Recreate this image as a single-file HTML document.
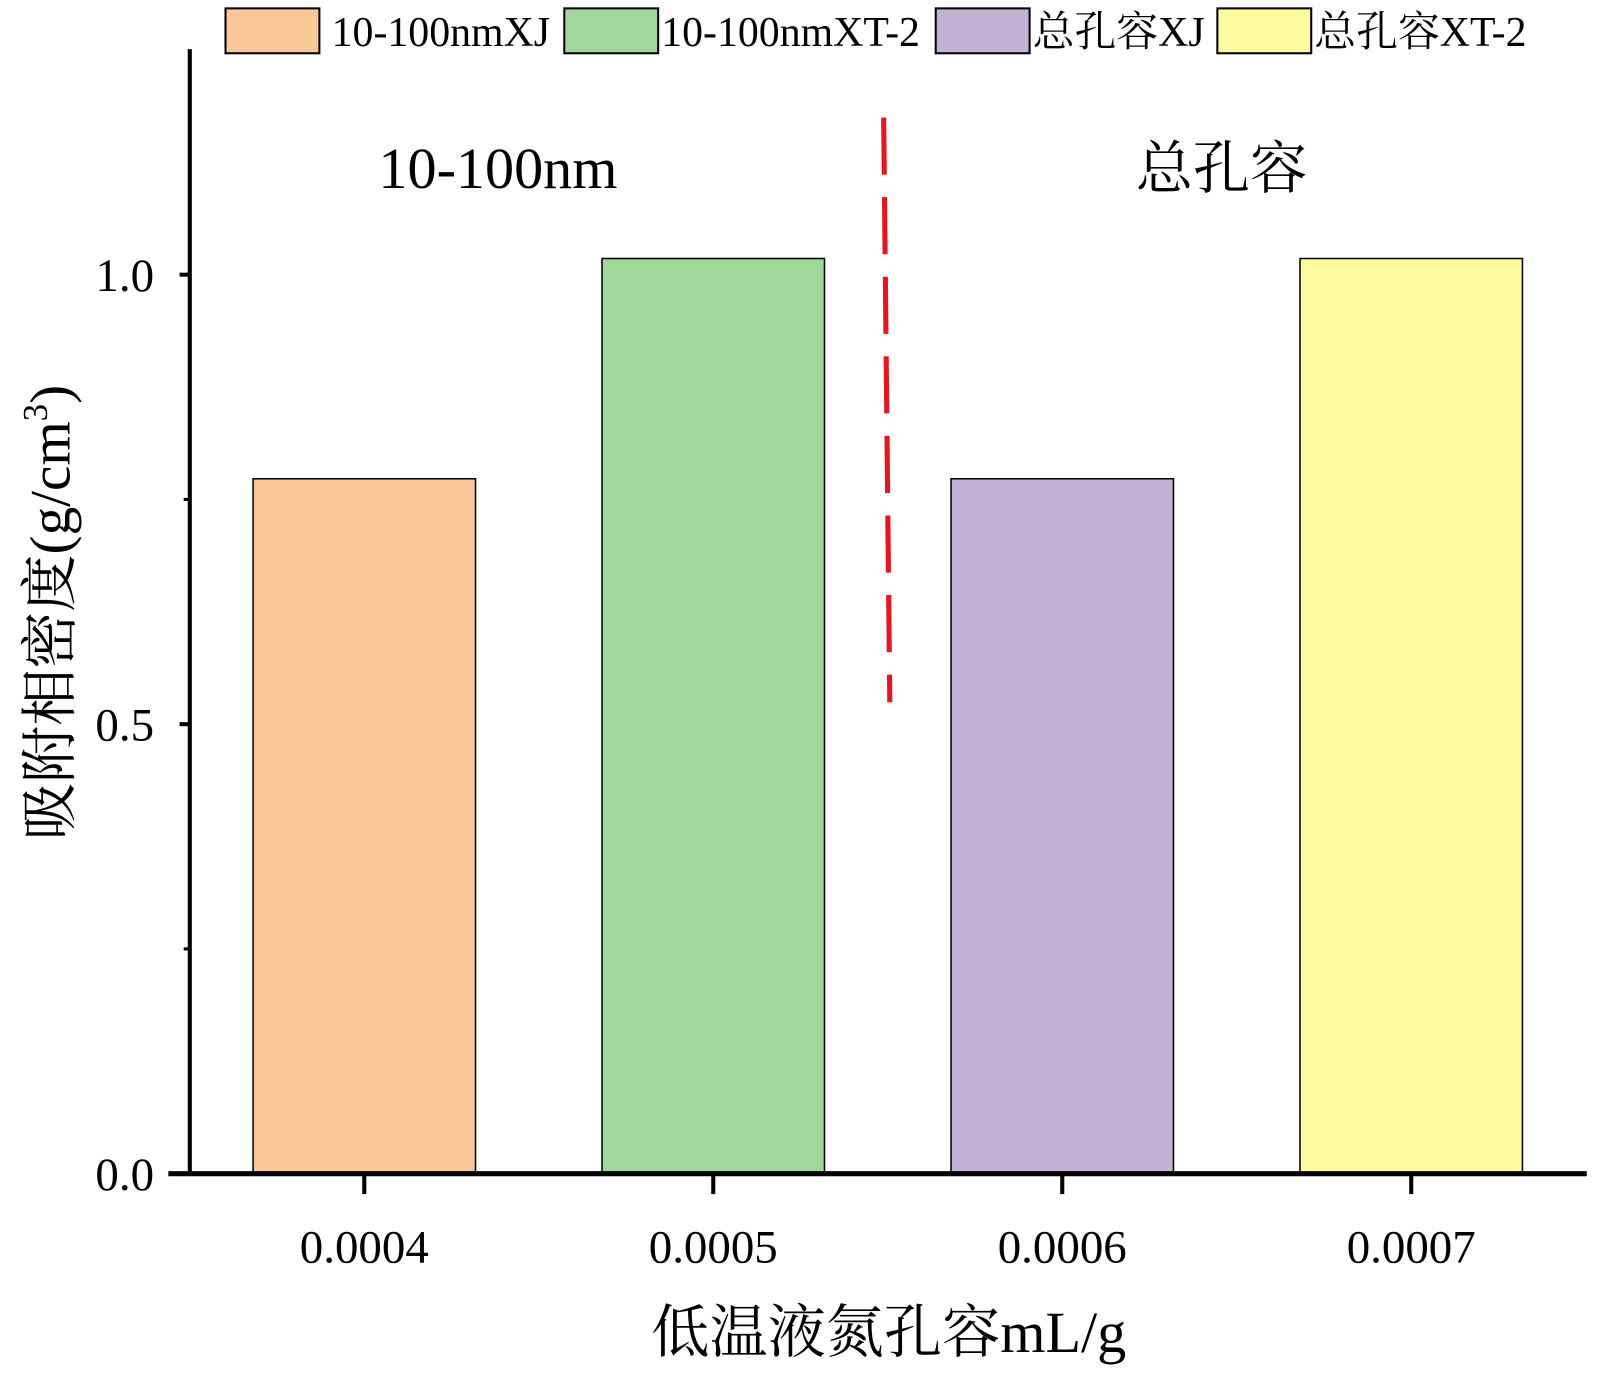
<!DOCTYPE html>
<html><head><meta charset="utf-8"><style>
html,body{margin:0;padding:0;background:#fff}
svg text{font-family:"Liberation Serif","Noto Serif CJK SC",serif;fill:#000}
</style></head><body>
<svg width="1600" height="1380" viewBox="0 0 1568 1352" xmlns="http://www.w3.org/2000/svg" id="chart">
<g id="legend"></g>
<g id="bars"></g>
<g id="axes"></g>
<line x1="866" y1="115" x2="872" y2="688" stroke="#e8141e" stroke-width="5" stroke-dasharray="56,22"/>
<text x="488" y="184" font-size="57" text-anchor="middle">10-100nm</text>
<text x="1197" y="184" font-size="56" text-anchor="middle">总孔容</text>
<text x="871" y="1325" font-size="57" text-anchor="middle">低温液氮孔容mL/g</text>
<text transform="translate(68,600) rotate(-90)" font-size="56" text-anchor="middle">吸附相密度(g/cm<tspan dy="-22" font-size="34">3</tspan><tspan dy="22">)</tspan></text>
</svg>
<script>
const categories = ["0.0004","0.0005","0.0006","0.0007"];
const values = [0.773, 1.018, 0.773, 1.018];
const seriesNames = ["10-100nmXJ","10-100nmXT-2","总孔容XJ","总孔容XT-2"];
const colors = ["#fac898","#a0d89c","#c3b1d6","#fefb9f"];
const yTicks = [0.0, 0.5, 1.0];
const yTickLabels = ["0.0","0.5","1.0"];
const yMinorTicks = [0.25, 0.75];

const NS="http://www.w3.org/2000/svg";
const x0=186, xEnd=1555, y0=1150, yPerUnit=881;
const firstCenter=357, step=342, barW=218;
function xScale(i){return firstCenter+i*step;}
function yScale(v){return y0-v*yPerUnit;}
function mk(tag,attrs,parent){const e=document.createElementNS(NS,tag);for(const k in attrs)e.setAttribute(k,attrs[k]);parent.appendChild(e);return e;}

const bars=document.getElementById('bars');
values.forEach((v,i)=>{
  const r=mk('rect',{x:xScale(i)-barW/2,y:yScale(v),width:barW,height:y0-yScale(v),fill:colors[i],stroke:'#000','stroke-width':1.5},bars);
  
  
});

const axes=document.getElementById('axes');
const ya=mk('line',{x1:x0,y1:48,x2:x0,y2:y0,stroke:'#000','stroke-width':4},axes);


const xa=mk('line',{x1:165,y1:y0,x2:xEnd,y2:y0,stroke:'#000','stroke-width':5},axes);


yTicks.forEach((t,i)=>{
  const y=yScale(t);
  const l=mk('line',{x1:176,y1:y,x2:x0,y2:y,stroke:'#000','stroke-width':4},axes);
  
  
  const tx=mk('text',{x:151,y:y+16,'font-size':46,'text-anchor':'end'},axes);
  tx.textContent=yTickLabels[i];
  
  
});
yMinorTicks.forEach(t=>{
  const l=mk('line',{x1:180,y1:yScale(t),x2:x0,y2:yScale(t),stroke:'#000','stroke-width':3},axes);
  
  
});
categories.forEach((c,i)=>{
  const x=xScale(i);
  const l=mk('line',{x1:x,y1:y0,x2:x,y2:1170,stroke:'#000','stroke-width':4},axes);
  
  
  const tx=mk('text',{x:x,y:1237,'font-size':46,'text-anchor':'middle'},axes);
  tx.textContent=c;
  
  
});

const legend=document.getElementById('legend');
const legX=[221,553,917,1193];
seriesNames.forEach((n,i)=>{
  const r=mk('rect',{x:legX[i],y:8,width:92,height:44,fill:colors[i],stroke:'#000','stroke-width':2},legend);
  
  
  const t=mk('text',{x:legX[i]+(i==0?104:95),y:45,'font-size':41},legend);
  t.textContent=n;
  
  
});
</script>
</body></html>
